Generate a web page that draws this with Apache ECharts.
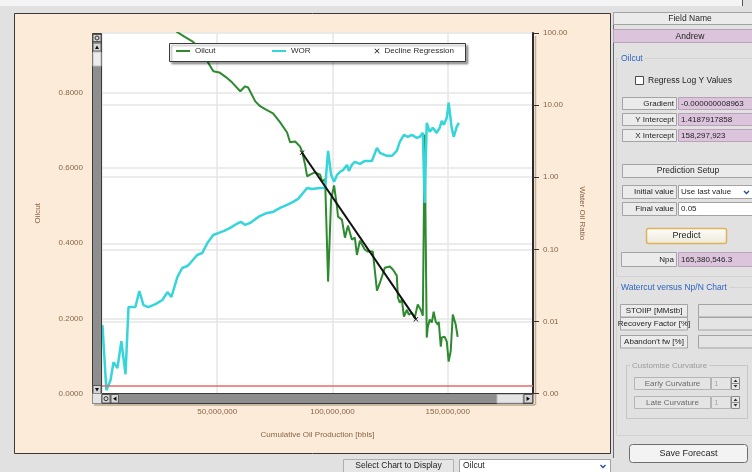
<!DOCTYPE html>
<html>
<head>
<meta charset="utf-8">
<script src="https://cdn.jsdelivr.net/npm/echarts@6.0.0/dist/echarts.min.js"></script>
<style>
html,body{margin:0;padding:0;background:#e1e1e1;}
#c{width:752px;height:472px;}
</style>
</head>
<body>
<div id="c"></div>
<script>
// ---- data (Np in millions of bbls) ----
const npWor = [0.2,1.9,3.7,5.0,6.7,8.4,10.2,11.5,14.5,16.2,18.0,20.1,23.2,26.2,28.4,30.1,32.7,34.8,37.0,38.3,41.3,43.5,45.7,48.3,50.4,53.0,55.6,59.1,60.4,62.1,64.3,67.8,71.6,74.2,77.3,80.3,82.9,85.1,85.9,89.0,91.1,94.6,96.8,98.1,99.4,100.7,102.0,103.3,104.6,106.3,107.1,108.4,109.7,111.9,114.1,117.1,119.3,120.6,123.6,125.8,127.9,129.2,131.0,132.7,134.4,136.6,137.9,139.2,140.0,140.9,142.2,143.5,145.2,146.5,147.4,148.3,149.6,150.4,150.9,151.7,152.6,153.9,154.8];
const wor = [0.0089,0.00111,0.00153,0.00272,0.00225,0.00532,0.00185,0.0158,0.0158,0.0264,0.0168,0.0158,0.0174,0.0198,0.0255,0.0218,0.0412,0.055,0.0586,0.0645,0.0834,0.0889,0.122,0.158,0.168,0.180,0.198,0.232,0.239,0.218,0.232,0.281,0.319,0.330,0.375,0.412,0.454,0.500,0.532,0.710,0.688,0.710,0.710,2.32,1.08,0.861,1.08,1.19,1.26,1.48,1.22,1.48,1.63,1.53,1.68,1.68,2.55,2.18,1.98,1.98,2.32,3.09,3.87,3.63,3.87,3.51,3.63,4.12,0.44,5.68,4.26,4.84,4.12,4.84,6.05,5.33,6.66,10.8,8.07,4.84,3.63,5.00,5.68];
const npOil = [1.9,11.5,23.2,30.1,32.7,36.1,39.2,42.6,45.7,48.3,50.9,53.9,56.5,60.0,62.1,63.4,66.5,68.6,70.8,74.2,77.3,80.3,81.6,83.8,85.9,86.8,88.1,89.0,90.3,92.4,94.6,95.5,96.8,98.1,99.4,100.7,102.0,102.4,104.1,105.4,106.7,108.4,109.7,110.6,111.9,114.1,115.4,117.5,119.3,120.6,122.7,124.9,126.2,127.9,128.4,129.2,130.1,131.0,132.3,133.1,134.4,135.7,137.0,138.3,139.2,140.0,140.9,141.3,142.2,143.1,143.9,144.8,145.7,146.1,147.0,147.4,148.7,149.6,150.4,151.3,152.2,153.5,154.3];
const oilcut = [0.999,0.985,0.983,0.978,0.962,0.949,0.938,0.917,0.885,0.858,0.855,0.842,0.828,0.805,0.818,0.815,0.778,0.765,0.757,0.746,0.722,0.695,0.669,0.671,0.658,0.645,0.610,0.578,0.583,0.589,0.583,0.565,0.570,0.298,0.517,0.554,0.495,0.471,0.463,0.415,0.447,0.410,0.415,0.369,0.407,0.383,0.378,0.378,0.274,0.295,0.335,0.338,0.330,0.314,0.255,0.242,0.250,0.205,0.223,0.210,0.215,0.202,0.237,0.223,0.207,0.690,0.149,0.175,0.197,0.189,0.218,0.191,0.183,0.191,0.125,0.149,0.151,0.138,0.085,0.113,0.210,0.183,0.151];
const npReg = [86.8, 136.2];
const regOilcut = [0.641, 0.198];
const limitOilcut = 0.018;
const xTickValues = [0, 50e6, 100e6, 150e6];
const xLabelValues = [50e6, 100e6, 150e6];
const yTickValues = [0, 0.2, 0.4, 0.6, 0.8];
const statRows = [['Gradient','-0.000000008963'],['Y Intercept','1.4187917858'],['X Intercept','158,297,923']];

const F = '"Liberation Sans", Arial, sans-serif';
const BROWN = '#8a6548';
const XPATH = 'path://M0,1L1,0L5,4L9,0L10,1L6,5L10,9L9,10L5,6L1,10L0,9L4,5Z';

function R(x,y,w,h,fill,stroke,z,r,lw){
  return {type:'rect',silent:true,z:z===undefined?1:z,shape:{x:x,y:y,width:w,height:h,r:r||0},
    style:{fill:fill||'none',stroke:stroke||'none',lineWidth:lw||1}};
}
function T(x,y,s,align,size,color,z,bg){
  const st={text:s,fill:color||'#1e1e1e',font:(size||8.5)+'px '+F,align:align||'left',verticalAlign:'middle'};
  if(bg){st.backgroundColor=bg;st.padding=[0,2];}
  return {type:'text',silent:true,z:z===undefined?2:z,x:x,y:y,style:st};
}
function L(x1,y1,x2,y2,color,w,z){
  return {type:'line',silent:true,z:z===undefined?1:z,shape:{x1:x1,y1:y1,x2:x2,y2:y2},style:{stroke:color,lineWidth:w||1}};
}
function P(pts,fill,z){
  return {type:'polygon',silent:true,z:z===undefined?7:z,shape:{points:pts},style:{fill:fill||'#111'}};
}
function PL(pts,color,w,z){
  return {type:'polyline',silent:true,z:z===undefined?7:z,shape:{points:pts},style:{stroke:color,lineWidth:w||1.3,fill:'none'}};
}

const G = [];
// page chrome
G.push(R(0,0,742,6,'#f4f4f4',null,-10));
G.push(L(742.5,0,742.5,6,'#555',1,-9));
G.push(R(14.5,13.5,596,440,'#fcebd9','#3a3a3a',-10));
G.push(L(613.5,13,613.5,458,'#6a6a6a',1,-9));

// legend box
G.push({type:'rect',silent:true,z:3,shape:{x:169.5,y:43.5,width:296,height:18},
  style:{fill:'#fff',stroke:'#3a3a3a',lineWidth:1,shadowBlur:2,shadowOffsetX:2,shadowOffsetY:2,shadowColor:'rgba(0,0,0,0.35)'}});

// scrollbars
G.push(R(92.5,33.5,9,360,'#8e8e8e','#3a3a3a',6));
G.push(R(93,34.5,8,7,'#d6d6d6','#5a5a5a',7));
G.push({type:'circle',silent:true,z:8,shape:{cx:97,cy:38,r:2},style:{fill:'none',stroke:'#333',lineWidth:1}});
G.push(R(93,43,8,8,'#d6d6d6','#5a5a5a',7));
G.push(P([[95,49],[97,45.5],[99,49]],'#111',8));
G.push(R(93,52,8,14,'#ececec','#bdbdbd',7));
G.push(R(93,385.5,8,8,'#d6d6d6','#5a5a5a',7));
G.push(P([[95,388],[99,388],[97,391.5]],'#111',8));

G.push(R(92.5,393.5,440.5,10,'#8e8e8e','#3a3a3a',6));
G.push(R(92.5,393.5,9,10,'#e4e4e4','#8a8a8a',7));
G.push(R(102,394.5,8,8.5,'#d6d6d6','#5a5a5a',7));
G.push({type:'circle',silent:true,z:8,shape:{cx:106,cy:398.7,r:2},style:{fill:'none',stroke:'#333',lineWidth:1}});
G.push(R(111,394.5,7.5,8.5,'#d6d6d6','#5a5a5a',7));
G.push(P([[116.5,396.5],[113,398.7],[116.5,401]],'#111',8));
G.push(R(497,394.5,26,8.5,'#e4e4e4','#bdbdbd',7));
G.push(R(524,394.5,8.5,8.5,'#d6d6d6','#5a5a5a',7));
G.push(P([[526.5,396.5],[530,398.7],[526.5,401]],'#111',8));
G.push(L(94,405,535,405,'rgba(60,40,20,0.35)',1.5,5));
G.push(L(535.5,36,535.5,405,'rgba(60,40,20,0.3)',1.5,5));

// right panel
const LB='#ebebeb', LBS='#a3a3a3', PK='#dcc4dc', PKS='#b9a3b9', BLUE='#2f63c0';
G.push(R(613.5,12.5,139,12,LB,LBS));
G.push(T(690,18.5,'Field Name','center',8.5));
G.push(R(613.5,29.5,139,13,PK,PKS));
G.push(T(690,36.5,'Andrew','center',8.5));
G.push(R(616.5,58.5,140,218,null,'#d2d2d2',0));
G.push(T(619,58.5,'Oilcut','left',8.5,BLUE,2,'#e1e1e1'));
G.push(R(635.5,76.5,8,8,'#fff','#4a4a4a'));
G.push(T(648,80.5,'Regress Log Y Values','left',8.5));
statRows.forEach(function(r,i){
  const y = 97.5 + i*16;
  G.push(R(622.5,y,54,12,LB,LBS));
  G.push(T(674,y+6.5,r[0],'right',8));
  G.push(R(678.5,y,74,12,PK,PKS));
  G.push(T(681,y+6.5,r[1],'left',8));
});
G.push(R(622.5,164.5,130,13,LB,LBS));
G.push(T(688,171,'Prediction Setup','center',8.5));
G.push(R(622.5,185.5,54,13,LB,LBS));
G.push(T(674,192,'Initial value','right',8));
G.push(R(678.5,185.5,74,13,'#fff',LBS));
G.push(T(681,192,'Use last value','left',8));
G.push(PL([[744,191],[746.5,193.5],[749,191]],'#2a4f9c',1.4,3));
G.push(R(622.5,202.5,54,13,LB,LBS));
G.push(T(674,209,'Final value','right',8));
G.push(R(678.5,202.5,74,13,'#fff',LBS));
G.push(T(681,209,'0.05','left',8));
G.push({type:'rect',silent:true,z:1,shape:{x:646.5,y:228.5,width:80,height:15,r:2},
  style:{fill:{type:'linear',x:0,y:0,x2:0,y2:1,colorStops:[{offset:0,color:'#fefefb'},{offset:1,color:'#ece9d8'}]},stroke:'#deb25a',lineWidth:1.5}});
G.push(T(686.5,236,'Predict','center',9));
G.push(R(621.5,252.5,55,14,LB,LBS));
G.push(T(674,259.5,'Npa','right',8));
G.push(R(678.5,252.5,74,14,PK,PKS));
G.push(T(681,259.5,'165,380,546.3','left',8));
G.push(L(617,287.5,752,287.5,'#d2d2d2',1,0));
G.push(L(616.5,287.5,616.5,435,'#d2d2d2',1,0));
G.push(L(616.5,435.5,752,435.5,'#d2d2d2',1,0));
G.push(T(619,287.5,'Watercut versus Np/N Chart','left',8.5,BLUE,2,'#e1e1e1'));
[['STOIIP [MMstb]',304.5],['Recovery Factor [%]',317.5],["Abandon't fw [%]",335.5]].forEach(function(r){
  G.push(R(620.5,r[1],67,12.5,LB,LBS));
  G.push(T(654,r[1]+6.5,r[0],'center',8));
  G.push(R(698.5,r[1],54,12.5,'#e4e4e4',LBS));
});
G.push(R(626.5,365.5,121,53,null,'#c6c6c6',0));
G.push(T(630,365.5,'Customise Curvature','left',8,'#9a9a9a',2,'#e1e1e1'));
[['Early Curvature',377.5],['Late Curvature',396.5]].forEach(function(r){
  G.push(R(634.5,r[1],76,12,'#e4e4e4','#b4b4b4'));
  G.push(T(672.5,r[1]+6,r[0],'center',8,'#6a6a6a'));
  G.push(R(711.5,r[1],19,12,'#e4e4e4','#b4b4b4'));
  G.push(T(714,r[1]+6,'1','left',8,'#a8a8a8'));
  G.push(R(731.5,r[1],8,12,'#e8e8e8','#8a8a8a'));
  G.push(L(731.5,r[1]+6,739.5,r[1]+6,'#8a8a8a',1,2));
  G.push(P([[733.5,r[1]+4.5],[735.5,r[1]+2],[737.5,r[1]+4.5]],'#333',3));
  G.push(P([[733.5,r[1]+7.5],[737.5,r[1]+7.5],[735.5,r[1]+10]],'#333',3));
});
G.push(R(629.5,444.5,118,18,'#f3f3f3','#6e6e6e',1,3));
G.push(T(688.5,453.5,'Save Forecast','center',9));

// bottom bar
G.push(R(343.5,459.5,110,14,'#e6e6e6','#b0b0b0'));
G.push(T(398.5,466,'Select Chart to Display','center',8.5));
G.push(R(459.5,459.5,151,14,'#fff','#a3a3a3'));
G.push(T(463,466,'Oilcut','left',8.5));
G.push(PL([[600.5,465],[603,467.5],[605.5,465]],'#2a4f9c',1.4,3));

const labelStyle = {color: BROWN, fontSize: 8, fontFamily: F};
const gridLine = {show:true, lineStyle:{color:'#e6e6e6', width:1.5}};

const option = {
  backgroundColor: '#e1e1e1',
  animation: false,
  grid: {left:102, top:33, width:431, height:360.5, show:true, backgroundColor:'#ffffff', borderWidth:0},
  legend: [
    {data:['Oilcut'], left:176, top:47, padding:0, icon:'rect', itemWidth:14, itemHeight:2, textStyle:{color:'#2a2a2a',fontSize:8,fontFamily:F}},
    {data:['WOR'], left:272, top:47, padding:0, icon:'rect', itemWidth:14, itemHeight:2, textStyle:{color:'#2a2a2a',fontSize:8,fontFamily:F}},
    {data:[{name:'Decline Regression', icon:XPATH}], left:374.5, top:47, padding:0, itemWidth:5, itemHeight:5, textStyle:{color:'#2a2a2a',fontSize:8,fontFamily:F}}
  ],
  xAxis: {
    type:'value', min:0, max:187e6, interval:50e6, offset:10.5,
    axisLine:{show:false},
    axisTick:{show:true, length:5, lineStyle:{color:'#333'}, customValues:xTickValues},
    axisLabel:Object.assign({margin:4, customValues:xLabelValues,
      formatter:function(v){return Math.round(v).toLocaleString('en-US');}}, labelStyle),
    splitLine:gridLine,
    name:'Cumulative Oil Production [bbls]', nameLocation:'middle', nameGap:27,
    nameTextStyle:{color:BROWN, fontSize:8, fontFamily:F}
  },
  yAxis: [
    {
      type:'value', min:0, max:0.96, interval:0.2, position:'left', offset:10,
      axisLine:{show:false},
      axisTick:{show:true, length:6, lineStyle:{color:'#333'}, customValues:yTickValues},
      axisLabel:Object.assign({margin:9, customValues:yTickValues,
        formatter:function(v){return v.toFixed(4);}}, labelStyle),
      splitLine:gridLine,
      name:'Oilcut', nameLocation:'middle', nameGap:50, nameRotate:90,
      nameTextStyle:{color:BROWN, fontSize:8, fontFamily:F}
    },
    {
      type:'log', logBase:10, min:0.001, max:100, position:'right',
      axisLine:{show:true, lineStyle:{color:'#2b2b2b', width:2}},
      axisTick:{show:true, length:6, lineStyle:{color:'#333'}},
      axisLabel:Object.assign({margin:10, formatter:function(v){return Number(v).toFixed(2);}}, labelStyle),
      splitLine:gridLine,
      name:'Water Oil Ratio', nameLocation:'middle', nameGap:44, nameRotate:-90,
      nameTextStyle:{color:BROWN, fontSize:8, fontFamily:F}
    }
  ],
  series: [
    {
      name:'Oilcut', type:'line', xAxisIndex:0, yAxisIndex:0, symbol:'none', z:2,
      data: npOil.map(function(v,i){return [v*1e6, oilcut[i]];}),
      lineStyle:{color:'#2e8a2e', width:2}, itemStyle:{color:'#2e8a2e'},
      markLine:{silent:true, symbol:'none', label:{show:false}, animation:false,
        lineStyle:{color:'#e46a6a', width:1.5, type:'solid'}, data:[{yAxis:limitOilcut}]}
    },
    {
      name:'WOR', type:'line', xAxisIndex:0, yAxisIndex:1, symbol:'none', z:2,
      data: npWor.map(function(v,i){return [v*1e6, wor[i]];}),
      lineStyle:{color:'#36d5da', width:2.5}, itemStyle:{color:'#36d5da'}
    },
    {
      name:'Decline Regression', type:'line', xAxisIndex:0, yAxisIndex:0, z:3,
      symbol:XPATH, symbolSize:5, showSymbol:true,
      data: npReg.map(function(v,i){return [v*1e6, regOilcut[i]];}),
      lineStyle:{color:'#111', width:2}, itemStyle:{color:'#111'}
    }
  ],
  graphic: {elements: G}
};

const chart = echarts.init(document.getElementById('c'), null, {renderer:'canvas'});
chart.setOption(option);
</script>
</body>
</html>
